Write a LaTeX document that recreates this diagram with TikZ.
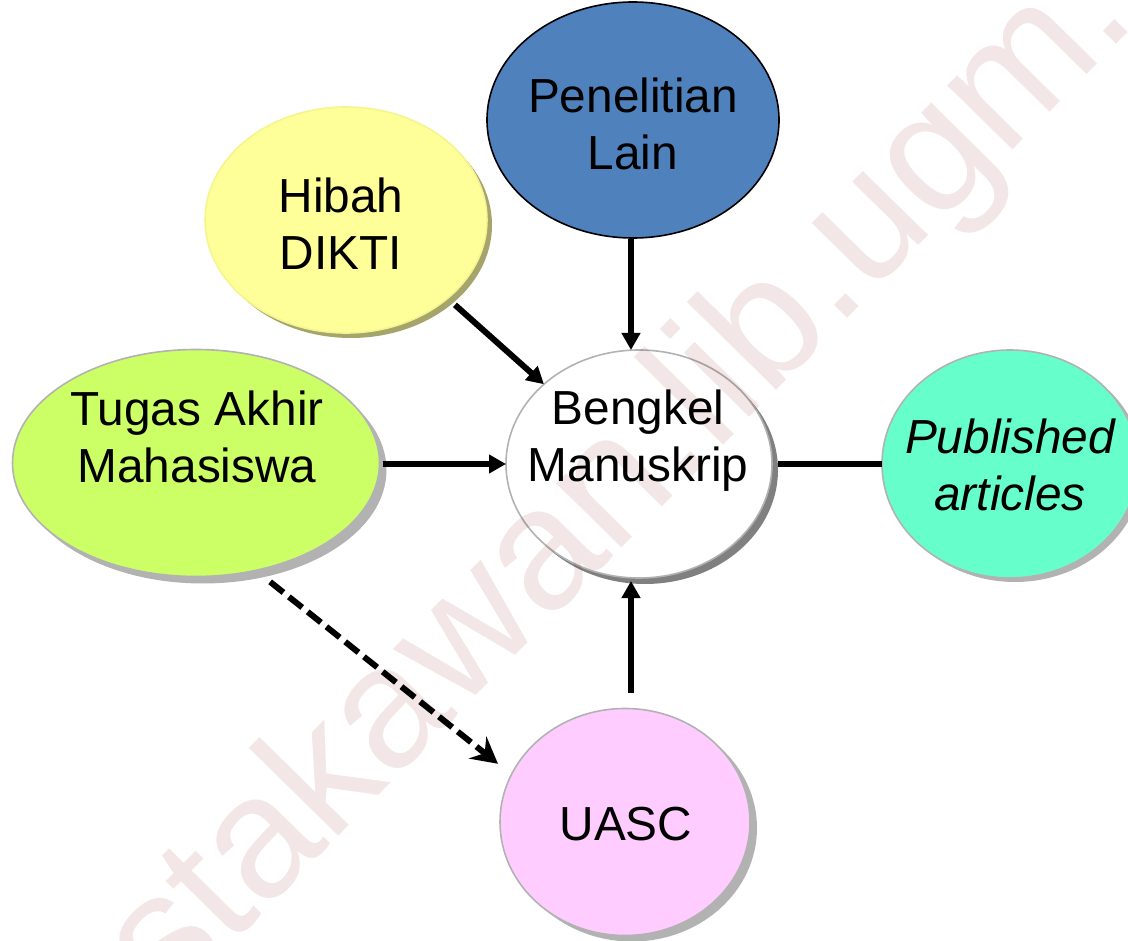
\documentclass[tikz,border=0pt]{standalone}
\usepackage{fontspec}
\setmainfont{Liberation Sans}
\usetikzlibrary{arrows.meta,shapes.geometric}
\definecolor{wm}{HTML}{F2E6E6}
\definecolor{rimgray}{HTML}{B2B2B2}
\definecolor{shadlight}{HTML}{B2B2B2}
\definecolor{shaddark}{HTML}{808080}
\definecolor{shadolive}{HTML}{A5A56B}
\definecolor{rimyellow}{HTML}{F4F490}
\definecolor{cblue}{HTML}{4F81BD}
\definecolor{cyellow}{HTML}{FFFF99}
\definecolor{clime}{HTML}{CCFF66}
\definecolor{cmint}{HTML}{66FFCC}
\definecolor{cpink}{HTML}{FFCCFF}
\tikzset{
  x=1pt,y=-1pt,
  bub/.style={ellipse,inner sep=0pt,outer sep=0pt,line width=1.6pt,draw=#1},
  shad/.style={ellipse,inner sep=0pt,outer sep=0pt,draw=none,fill=#1},
  lab/.style={align=center,font=\fontsize{47.8}{57}\selectfont,inner sep=0pt,text=black},
  conn/.style={line width=6pt,-{Triangle[length=17pt,width=18pt]}},
  plain/.style={line width=6pt},
  dashconn/.style={line width=6pt,dash pattern=on 17pt off 7pt,-{Stealth[length=26pt,width=28pt,inset=9pt]}}
}
\begin{document}
\begin{tikzpicture}
\useasboundingbox (0,0) rectangle (1128,941);
% shadows
\node[shad=shadolive,minimum width=282pt,minimum height=226pt] (s1) at (351,225) {};
\node[shad=shadlight,minimum width=367pt,minimum height=227pt] (s2) at (203,470) {};
\node[shad=shaddark,minimum width=266pt,minimum height=228pt] (s3) at (645,470) {};
\node[shad=shadlight,minimum width=256pt,minimum height=228pt] (s4) at (1015,468) {};
\node[shad=shadlight,minimum width=250pt,minimum height=227pt] (s5) at (632,828) {};
% bubbles
\node[bub=black,fill=cblue,minimum width=292pt,minimum height=236pt] (pen) at (633,120) {};
\node[bub=rimyellow,fill=cyellow,minimum width=282pt,minimum height=226pt] (hib) at (346,220) {};
\node[bub=rimgray,fill=clime,minimum width=367pt,minimum height=227pt] (tug) at (196,463) {};
\node[bub=rimgray,fill=white,minimum width=266pt,minimum height=228pt] (ben) at (639,464) {};
\node[bub=rimgray,fill=cmint,minimum width=256pt,minimum height=228pt] (pub) at (1010,464) {};
\node[bub=rimgray,fill=cpink,minimum width=250pt,minimum height=227pt] (uas) at (625,822) {};
% watermark
\begin{scope}
\clip (0,0) rectangle (1128,941);
\begin{scope}[blend mode=multiply]
\node[anchor=base west,rotate=45.5,inner sep=0pt,text=wm,font=\fontsize{173}{173}\selectfont] (mark) at (169,1009) {stakawan.lib.ugm.};
\end{scope}
\end{scope}
% labels
\node[lab] (penT) at (633,124) {Penelitian\\Lain};
\node[lab] (hibT) at (341,224) {Hibah\\DIKTI};
\node[lab] (tugT) at (197,437) {Tugas Akhir\\Mahasiswa};
\node[lab] (benT) at (638,441) {Bengkel\\Manuskrip};
\node[lab,font=\fontsize{47.8}{57}\selectfont\itshape] (pubT) at (1010,465) {Published\\articles};
\node[lab] (uasT) at (626,824) {UASC};
% connectors
\draw[conn] ([xshift=-2pt,yshift=-1pt]pen.south) -- ([xshift=-8pt]ben.north);
\draw[conn] ([xshift=8pt,yshift=-6pt]hib.-38) -- (ben.140);
\draw[conn] ([xshift=3pt,yshift=-1pt]tug.east) -- (ben.west);
\draw[plain] ([xshift=6pt]ben.east) -- (pub.west);
\draw[conn] ([xshift=6pt,yshift=16pt]uas.north) -- ([xshift=-8pt,yshift=-3pt]ben.south);
\draw[dashconn] ([xshift=8pt,yshift=-13pt]tug.-58) -- ([xshift=-11pt,yshift=16pt]uas.160);
\end{tikzpicture}
\end{document}
